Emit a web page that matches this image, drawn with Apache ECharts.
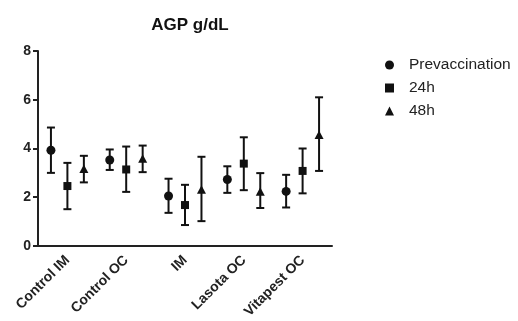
<!DOCTYPE html>
<html>
<head>
<meta charset="utf-8">
<script src="https://cdn.jsdelivr.net/npm/echarts@6/dist/echarts.min.js"></script>
<style>
  html, body { margin: 0; padding: 0; background: #fff; }
  #main { width: 518px; height: 321px; }
</style>
</head>
<body>
<div id="main"></div>
<script>
const categories = ['Control IM', 'Control OC', 'IM', 'Lasota OC', 'Vitapest OC'];
const yTicks = [0, 2, 4, 6, 8];

// mean, lower and upper end of the error bar for each group
const prevMean = [3.93, 3.53, 2.05, 2.73, 2.24];
const prevLow  = [3.00, 3.12, 1.36, 2.18, 1.58];
const prevHigh = [4.86, 3.96, 2.76, 3.27, 2.92];

const h24Mean = [2.46, 3.14, 1.68, 3.38, 3.08];
const h24Low  = [1.51, 2.22, 0.86, 2.29, 2.16];
const h24High = [3.41, 4.08, 2.51, 4.46, 4.00];

const h48Mean = [3.14, 3.56, 2.29, 2.21, 4.53];
const h48Low  = [2.61, 3.03, 1.02, 1.56, 3.08];
const h48High = [3.70, 4.12, 3.66, 2.99, 6.10];

const groups = [
  { name: 'Prevaccination', icon: 'circle', shift: -0.28, mean: prevMean, low: prevLow, high: prevHigh },
  { name: '24h', icon: 'rect', shift: 0, mean: h24Mean, low: h24Low, high: h24High },
  { name: '48h', icon: 'triangle', shift: 0.28, mean: h48Mean, low: h48Low, high: h48High }
];

const makeRender = (g) => (params, api) => {
  const cat = api.value(0);
  const band = api.size([1, 0])[0];
  const pm = api.coord([cat, api.value(1)]);
  const pl = api.coord([cat, api.value(2)]);
  const ph = api.coord([cat, api.value(3)]);
  const x = pm[0] + g.shift * band;
  const cap = 4;
  const st = { stroke: '#111', lineWidth: 2 };
  const children = [
    { type: 'line', shape: { x1: x, y1: ph[1], x2: x, y2: pl[1] }, style: st },
    { type: 'line', shape: { x1: x - cap, y1: ph[1], x2: x + cap, y2: ph[1] }, style: st },
    { type: 'line', shape: { x1: x - cap, y1: pl[1], x2: x + cap, y2: pl[1] }, style: st }
  ];
  const y = pm[1];
  if (g.icon === 'circle') {
    children.push({ type: 'circle', shape: { cx: x, cy: y, r: 4.5 }, style: { fill: '#111' } });
  } else if (g.icon === 'rect') {
    children.push({ type: 'rect', shape: { x: x - 4, y: y - 4, width: 8, height: 8 }, style: { fill: '#111' } });
  } else {
    children.push({ type: 'polygon', shape: { points: [[x, y - 5], [x - 4.5, y + 3.5], [x + 4.5, y + 3.5]] }, style: { fill: '#111' } });
  }
  return { type: 'group', children: children };
};

const series = groups.map((g) => ({
  name: g.name,
  type: 'custom',
  renderItem: makeRender(g),
  itemStyle: { color: '#111' },
  encode: { x: 0, y: [1, 2, 3] },
  data: categories.map((c, i) => [i, g.mean[i], g.low[i], g.high[i]])
}));

const chart = echarts.init(document.getElementById('main'));
chart.setOption({
  animation: false,
  backgroundColor: '#fff',
  title: {
    text: 'AGP g/dL',
    left: 185,
    textAlign: 'center',
    top: 12,
    textStyle: { fontFamily: 'Liberation Sans', fontSize: 17, fontWeight: 'bold', color: '#111' }
  },
  legend: {
    orient: 'vertical',
    left: 380,
    top: 52,
    itemWidth: 9,
    itemHeight: 9,
    itemGap: 7,
    textStyle: { fontFamily: 'Liberation Sans', fontSize: 15.5, lineHeight: 16, color: '#222', padding: [0, 0, 0, 10] },
    data: groups.map((g) => ({ name: g.name, icon: g.icon }))
  },
  grid: { left: 38, right: 186, top: 51, bottom: 75 },
  xAxis: {
    type: 'category',
    data: categories,
    axisLine: { lineStyle: { color: '#222', width: 2 } },
    axisTick: { alignWithLabel: true, length: 5, lineStyle: { color: '#222', width: 2 } },
    axisLabel: {
      rotate: 45,
      margin: 12,
      fontFamily: 'Liberation Sans',
      fontSize: 14,
      fontWeight: 'bold',
      color: '#222'
    }
  },
  yAxis: {
    type: 'value',
    min: yTicks[0],
    max: yTicks[yTicks.length - 1],
    interval: 2,
    splitLine: { show: false },
    axisLine: { show: true, lineStyle: { color: '#222', width: 2 } },
    axisTick: { show: true, length: 5, lineStyle: { color: '#222', width: 2 } },
    axisLabel: { fontFamily: 'Liberation Sans', fontSize: 14, fontWeight: 'bold', color: '#222', margin: 7 }
  },
  series: series
});
</script>
</body>
</html>
